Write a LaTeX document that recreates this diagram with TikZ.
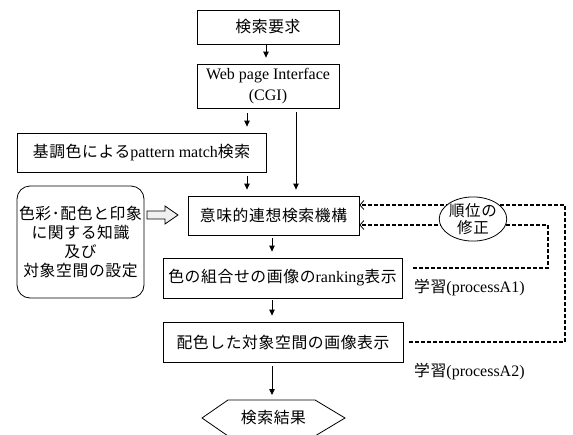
\documentclass[tikz,border=0pt]{standalone}
\usepackage{fontspec}
\setmainfont{Noto Sans CJK JP}[LetterSpace=4]
\newfontfamily\tm{Liberation Serif}
\usetikzlibrary{arrows.meta,shapes.geometric}
\begin{document}
\begin{tikzpicture}[x=1pt,y=-1pt,
  font=\fontsize{15.8}{19}\selectfont,
  boxst/.style={draw=black, line width=0.8pt, inner sep=0pt, align=center},
  arr/.style={line width=0.8pt, -{Triangle[length=6pt,width=5.5pt]}, shorten <=3pt, shorten >=6pt},
  dsh/.style={line width=1.3pt, dash pattern=on 4pt off 2pt, -{Straight Barb[length=4pt,width=9pt,line width=0.8pt]}},
  lbl/.style={anchor=west, inner sep=0pt}]
\useasboundingbox (0,0) rectangle (573,434);
\clip (0,0) rectangle (573,434);
\node[boxst, minimum width=142pt, minimum height=34pt] (req) at (268,27) {検索要求};
\node[boxst, minimum width=142pt, minimum height=44pt, font=\tm\fontsize{16}{21}\selectfont] (web) at (268,86) {Web page Interface\\(CGI)};
\node[boxst, minimum width=249pt, minimum height=39pt] (pat) at (141.5,152.5) {基調色による{\tm\fontsize{16}{19}\selectfont pattern match}検索};
\node[boxst, rounded corners=13pt, minimum width=127pt, minimum height=112pt] (know) at (80.5,242) {色彩･配色と印象\\に関する知識\\及び\\対象空間の設定};
\node[boxst, minimum width=171pt, minimum height=39pt] (sem) at (273.5,215.5) {意味的連想検索機構};
\node[boxst, minimum width=239pt, minimum height=40pt] (rank) at (282.5,278) {色の組合せの画像の{\tm\fontsize{16}{19}\selectfont ranking}表示};
\node[boxst, minimum width=240pt, minimum height=40pt] (col) at (283,342) {配色した対象空間の画像表示};
\node[inner sep=0pt] (res) at (273.5,418) {検索結果};
\draw[line width=0.8pt] (202,418) -- (228,400) -- (315,400) -- (345,418) -- (315,436) -- (228,436) -- cycle;
% solid arrows
\coordinate (cA) at (266,0);
\coordinate (cB) at (247,0);
\coordinate (cC) at (296,0);
\coordinate (cD) at (272,0);
\coordinate (rt) at (272,400);
\draw[arr, shorten <=0pt] (req.south -| cA) -- (web.north -| cA);
\draw[arr, shorten <=5pt] (web.south -| cB) -- (pat.north -| cB);
\draw[arr, shorten <=4pt] (web.south -| cC) -- (sem.north -| cC);
\draw[arr, shorten <=4pt] (pat.south -| cB) -- (sem.north -| cB);
\draw[arr] (sem.south -| cD) -- (rank.north -| cD);
\draw[arr, shorten <=2pt] (rank.south -| cD) -- (col.north -| cD);
\draw[arr, shorten <=4pt, shorten >=5pt] (col.south -| cD) -- (rt);
% hollow arrow
\draw[line width=0.8pt, fill=gray!12] (147,211) -- (165,211) -- (165,206) -- (178,215) -- (165,224) -- (165,219) -- (147,219) -- cycle;
% dashed feedback
\coordinate (u1) at (565,205);
\coordinate (l0) at (413,268);
\coordinate (l1) at (548,225);
\draw[dsh] ([xshift=6pt]col.east) -| (u1) -- (sem.east |- u1);
\draw[dsh] (l0) -| (l1) -- (sem.east |- l1);
\node[draw, line width=0.8pt, fill=white, ellipse, minimum width=62pt, minimum height=42pt, inner sep=0pt, align=center, font=\fontsize{15.5}{17}\selectfont] (ell) at (473,219) {順位の\\修正};
\node[lbl] (a1) at (414,288) {学習{\tm\fontsize{16}{19}\selectfont(processA1)}};
\node[lbl] (a2) at (414,372) {学習{\tm\fontsize{16}{19}\selectfont(processA2)}};
\end{tikzpicture}
\end{document}
